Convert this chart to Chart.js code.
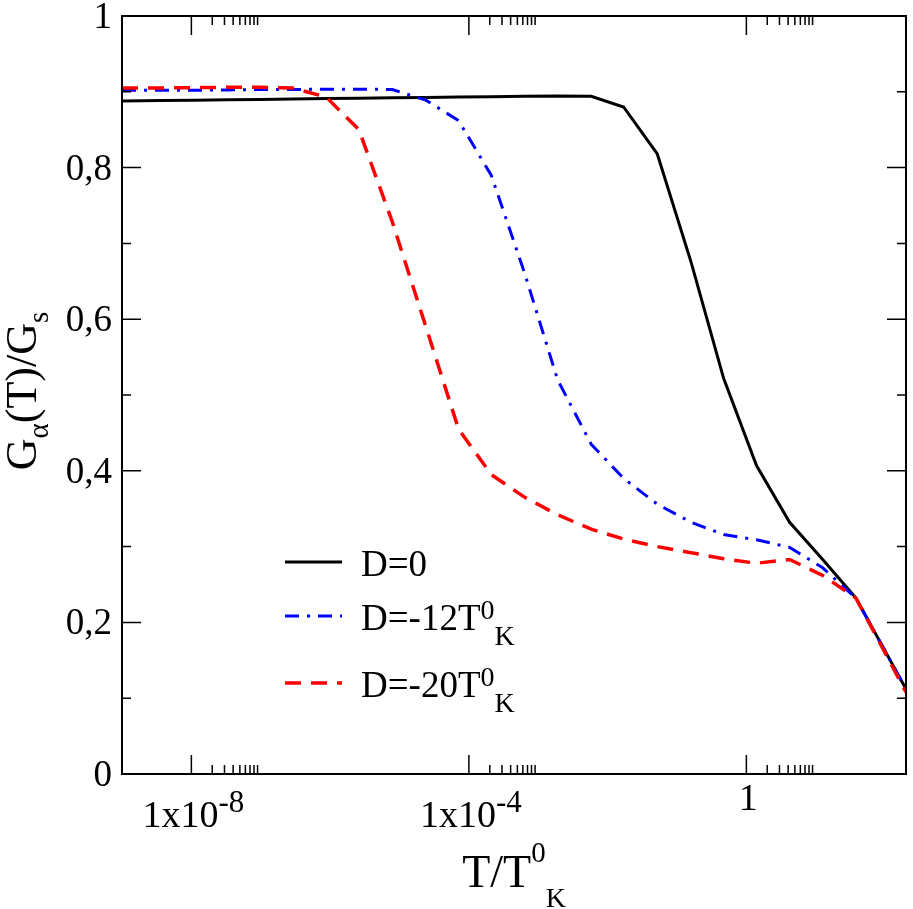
<!DOCTYPE html>
<html>
<head>
<meta charset="utf-8">
<script src="https://cdn.jsdelivr.net/npm/chart.js@4.4.0/dist/chart.umd.min.js"></script>
<style>
  html, body { margin: 0; padding: 0; background: #fff; }
  canvas { display: block; }
</style>
</head>
<body>
<canvas id="chart" width="913" height="909"></canvas>
<script>
// T/T_K^0 sample points
const tValues = [1e-9, 3.6e-9, 1.1e-8, 3.3e-8, 9.8e-8, 2.9e-7, 8.8e-7, 2.6e-6, 7.9e-6, 2.4e-5,
  7.1e-5, 2.1e-4, 6.4e-4, 1.9e-3, 5.8e-3, 0.017, 0.052, 0.16, 0.47, 1.4, 4.2, 12.6, 38, 200];

// G_alpha(T)/G_s for each D
const gD0 = [0.888, 0.8885, 0.889, 0.8895, 0.890, 0.8905, 0.891, 0.8915, 0.892, 0.8925,
  0.893, 0.8935, 0.894, 0.8945, 0.894, 0.880, 0.818, 0.675, 0.522, 0.407, 0.332, 0.283, 0.232, 0.112];
const gD12 = [0.902, 0.902, 0.902, 0.9025, 0.903, 0.903, 0.9035, 0.9035, 0.903, 0.889,
  0.862, 0.790, 0.660, 0.520, 0.435, 0.390, 0.356, 0.332, 0.316, 0.309, 0.299, 0.272, 0.232, 0.112];
const gD20 = [0.905, 0.905, 0.9055, 0.906, 0.906, 0.905, 0.893, 0.850, 0.728, 0.590,
  0.455, 0.395, 0.365, 0.342, 0.323, 0.310, 0.300, 0.292, 0.284, 0.278, 0.283, 0.262, 0.232, 0.108];

// axis ticks
const xMajorTicks = [1e-8, 1e-4, 1];
const xMinorSteps = [2, 3, 4, 5, 6, 7, 8, 9];
const xTickLabels = [['1x10', '-8'], ['1x10', '-4'], ['1', '']];
const yMajorTicks = [0, 0.2, 0.4, 0.6, 0.8, 1];
const yMinorTicks = [0.1, 0.3, 0.5, 0.7, 0.9];
const yTickLabels = ['0', '0,2', '0,4', '0,6', '0,8', '1'];

// legend texts: [main, superscript, subscript]
const legendLabels = [['D=0', '', ''], ['D=-12T', '0', 'K'], ['D=-20T', '0', 'K']];

const serif = "'Liberation Serif', 'Times New Roman', serif";

function pts(ys) {
  return tValues.map((t, i) => ({ x: t, y: ys[i] }));
}

// draw a run of text pieces one after another, each with its own size and baseline shift
function drawRich(ctx, x, y, parts) {
  parts.forEach(p => {
    if (!p.text) return;
    ctx.font = p.size + 'px ' + serif;
    ctx.fillText(p.text, x, y + (p.dy || 0));
    x += ctx.measureText(p.text).width;
  });
  return x;
}
function richWidth(ctx, parts) {
  let w = 0;
  parts.forEach(p => {
    if (!p.text) return;
    ctx.font = p.size + 'px ' + serif;
    w += ctx.measureText(p.text).width;
  });
  return w;
}

const framePlugin = {
  id: 'frame',
  afterDraw(chart) {
    const ctx = chart.ctx;
    const a = chart.chartArea;
    const xs = chart.scales.x, ys = chart.scales.y;
    ctx.save();
    ctx.strokeStyle = '#000';
    ctx.fillStyle = '#000';

    // ticks on all four sides, pointing inwards
    ctx.lineWidth = 1.5;
    ctx.beginPath();
    xMajorTicks.forEach(v => {
      const px = xs.getPixelForValue(v);
      ctx.moveTo(px, a.bottom); ctx.lineTo(px, a.bottom - 19);
      ctx.moveTo(px, a.top); ctx.lineTo(px, a.top + 19);
      xMinorSteps.forEach(m => {
        const mx = xs.getPixelForValue(v * m);
        ctx.moveTo(mx, a.bottom); ctx.lineTo(mx, a.bottom - 9);
        ctx.moveTo(mx, a.top); ctx.lineTo(mx, a.top + 9);
      });
    });
    yMajorTicks.forEach(v => {
      const py = ys.getPixelForValue(v);
      ctx.moveTo(a.left, py); ctx.lineTo(a.left + 19, py);
      ctx.moveTo(a.right, py); ctx.lineTo(a.right - 19, py);
    });
    yMinorTicks.forEach(v => {
      const py = ys.getPixelForValue(v);
      ctx.moveTo(a.left, py); ctx.lineTo(a.left + 9, py);
      ctx.moveTo(a.right, py); ctx.lineTo(a.right - 9, py);
    });
    ctx.stroke();

    ctx.lineWidth = 2;
    ctx.strokeRect(a.left, a.top, a.right - a.left, a.bottom - a.top);

    // y tick labels
    ctx.textAlign = 'right';
    ctx.textBaseline = 'alphabetic';
    ctx.font = '37px ' + serif;
    yMajorTicks.forEach((v, i) => {
      ctx.fillText(yTickLabels[i], a.left - 10, ys.getPixelForValue(v) + 12);
    });

    // x tick labels
    ctx.textAlign = 'left';
    xMajorTicks.forEach((v, i) => {
      const [base, exp] = xTickLabels[i];
      const parts = [{ text: base, size: 38 }, { text: exp, size: 31, dy: -15 }];
      const w = richWidth(ctx, parts);
      const x0 = xs.getPixelForValue(v) - w / 2 + 2;
      drawRich(ctx, x0, exp ? a.bottom + 53 : a.bottom + 36, parts);
    });

    // x axis title
    const xt = [{ text: 'T/T', size: 46 }, { text: '0', size: 29, dy: -25 }, { text: 'K', size: 28, dy: 20 }];
    drawRich(ctx, (a.left + a.right) / 2 - richWidth(ctx, xt) / 2, a.bottom + 113, xt);

    // y axis title, rotated
    const yt = [{ text: 'G', size: 44 }, { text: 'α', size: 29, dy: 12 }, { text: '(T)/G', size: 44 },
      { text: 's', size: 29, dy: 12 }];
    const yw = richWidth(ctx, yt);
    ctx.save();
    ctx.translate(36, (a.top + a.bottom) / 2 - 4 + yw / 2);
    ctx.rotate(-Math.PI / 2);
    drawRich(ctx, 0, 0, yt);
    ctx.restore();

    // legend
    const rows = [562, 616, 683];
    chart.data.datasets.forEach((ds, i) => {
      ctx.save();
      ctx.strokeStyle = ds.borderColor;
      ctx.lineWidth = ds.borderWidth;
      ctx.setLineDash(ds.borderDash || []);
      ctx.beginPath();
      ctx.moveTo(285, rows[i]);
      ctx.lineTo(342, rows[i]);
      ctx.stroke();
      ctx.restore();
      const [main, sup, sub] = legendLabels[i];
      drawRich(ctx, 361, rows[i] + 14, [
        { text: main, size: 37 }, { text: sup, size: 28, dy: -11 }, { text: sub, size: 28, dy: 15 }
      ]);
    });
    ctx.restore();
  }
};

new Chart(document.getElementById('chart'), {
  type: 'line',
  data: {
    datasets: [
      { label: 'D=0', data: pts(gD0), borderColor: '#000000', borderWidth: 3, order: 2 },
      { label: 'D=-12T0K', data: pts(gD12), borderColor: '#0000ff', borderWidth: 3,
        borderDash: [14, 8, 3, 8], order: 1 },
      { label: 'D=-20T0K', data: pts(gD20), borderColor: '#ff0000', borderWidth: 3.5,
        borderDash: [16, 10], order: 0 }
    ]
  },
  options: {
    responsive: false,
    devicePixelRatio: 1,
    animation: false,
    layout: { padding: { left: 122, right: 7, top: 16, bottom: 135 } },
    elements: {
      point: { radius: 0 },
      line: { tension: 0, fill: false }
    },
    plugins: {
      legend: { display: false },
      tooltip: { enabled: false }
    },
    scales: {
      x: { type: 'logarithmic', min: 1e-9, max: 200, display: false },
      y: { type: 'linear', min: 0, max: 1, display: false }
    }
  },
  plugins: [framePlugin]
});
</script>
</body>
</html>
